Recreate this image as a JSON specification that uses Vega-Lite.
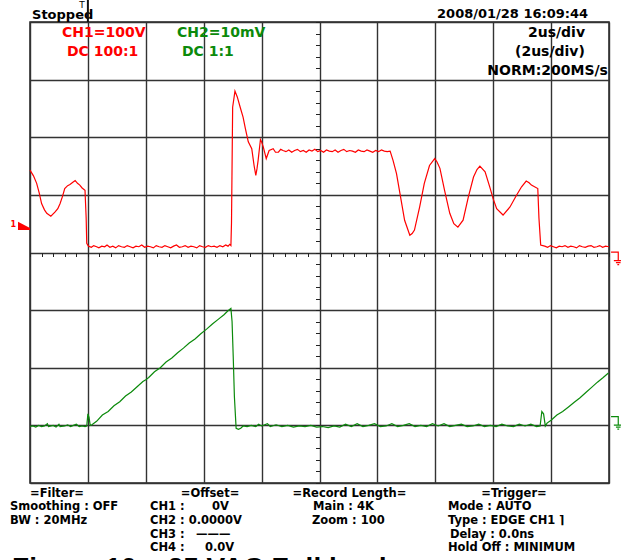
{
  "$schema": "https://vega.github.io/schema/vega-lite/v6.json",
  "width": 579,
  "height": 461,
  "autosize": {"type": "none"},
  "padding": {"left": 30, "top": 22, "right": 12, "bottom": 77},
  "background": "white",
  "config": {"view": {"stroke": "#222", "strokeWidth": 1.5}, "font": "DejaVu Sans"},
  "datasets": {
    "red": [
      {"t": 0, "v": 1.43}, {"t": 0.06, "v": 1.33}, {"t": 0.115, "v": 1.2}, {"t": 0.16, "v": 1.03}, {"t": 0.2, "v": 0.85},
      {"t": 0.25, "v": 0.74}, {"t": 0.29, "v": 0.68}, {"t": 0.36, "v": 0.63}, {"t": 0.43, "v": 0.7}, {"t": 0.48, "v": 0.76},
      {"t": 0.52, "v": 0.85}, {"t": 0.56, "v": 0.97}, {"t": 0.6, "v": 1.11}, {"t": 0.65, "v": 1.16}, {"t": 0.69, "v": 1.18},
      {"t": 0.74, "v": 1.22}, {"t": 0.78, "v": 1.25}, {"t": 0.82, "v": 1.2}, {"t": 0.86, "v": 1.17}, {"t": 0.9, "v": 1.12},
      {"t": 0.95, "v": 1.08}, {"t": 0.97, "v": 0.6}, {"t": 0.98, "v": 0.16}, {"t": 1.01, "v": 0.11},
      {"t": 1.06, "v": 0.09}, {"t": 1.1, "v": 0.12}, {"t": 1.15, "v": 0.1}, {"t": 1.19, "v": 0.08}, {"t": 1.24, "v": 0.11},
      {"t": 1.29, "v": 0.1}, {"t": 1.33, "v": 0.13}, {"t": 1.38, "v": 0.09}, {"t": 1.43, "v": 0.11}, {"t": 1.48, "v": 0.08},
      {"t": 1.53, "v": 0.12}, {"t": 1.58, "v": 0.1}, {"t": 1.63, "v": 0.09}, {"t": 1.68, "v": 0.12}, {"t": 1.73, "v": 0.1},
      {"t": 1.78, "v": 0.08}, {"t": 1.83, "v": 0.11}, {"t": 1.88, "v": 0.1}, {"t": 1.93, "v": 0.13}, {"t": 1.98, "v": 0.09},
      {"t": 2.03, "v": 0.11}, {"t": 2.08, "v": 0.1}, {"t": 2.13, "v": 0.08}, {"t": 2.18, "v": 0.12}, {"t": 2.23, "v": 0.1},
      {"t": 2.28, "v": 0.09}, {"t": 2.33, "v": 0.12}, {"t": 2.38, "v": 0.1}, {"t": 2.43, "v": 0.08}, {"t": 2.48, "v": 0.11},
      {"t": 2.53, "v": 0.13}, {"t": 2.58, "v": 0.09}, {"t": 2.63, "v": 0.1}, {"t": 2.68, "v": 0.12}, {"t": 2.73, "v": 0.09},
      {"t": 2.78, "v": 0.11}, {"t": 2.83, "v": 0.1}, {"t": 2.88, "v": 0.08}, {"t": 2.93, "v": 0.12}, {"t": 2.98, "v": 0.1},
      {"t": 3.03, "v": 0.09}, {"t": 3.08, "v": 0.12}, {"t": 3.13, "v": 0.1}, {"t": 3.18, "v": 0.11}, {"t": 3.23, "v": 0.09},
      {"t": 3.28, "v": 0.12}, {"t": 3.33, "v": 0.1}, {"t": 3.38, "v": 0.13}, {"t": 3.42, "v": 0.11}, {"t": 3.45, "v": 0.14},
      {"t": 3.47, "v": 0.12}, {"t": 3.48, "v": 0.51}, {"t": 3.5, "v": 2.52}, {"t": 3.54, "v": 2.8}, {"t": 3.58, "v": 2.7},
      {"t": 3.63, "v": 2.52}, {"t": 3.68, "v": 2.35}, {"t": 3.72, "v": 2.15}, {"t": 3.77, "v": 1.92}, {"t": 3.83, "v": 1.8},
      {"t": 3.87, "v": 1.51}, {"t": 3.9, "v": 1.34}, {"t": 3.92, "v": 1.45}, {"t": 3.94, "v": 1.6}, {"t": 3.98, "v": 1.96},
      {"t": 4.0, "v": 1.92}, {"t": 4.03, "v": 1.83}, {"t": 4.08, "v": 1.63}, {"t": 4.13, "v": 1.77}, {"t": 4.2, "v": 1.8},
      {"t": 4.24, "v": 1.74}, {"t": 4.29, "v": 1.74}, {"t": 4.33, "v": 1.79}, {"t": 4.37, "v": 1.77}, {"t": 4.42, "v": 1.75},
      {"t": 4.47, "v": 1.78}, {"t": 4.52, "v": 1.74}, {"t": 4.57, "v": 1.77}, {"t": 4.62, "v": 1.79}, {"t": 4.67, "v": 1.75},
      {"t": 4.72, "v": 1.77}, {"t": 4.77, "v": 1.74}, {"t": 4.82, "v": 1.78}, {"t": 4.87, "v": 1.76}, {"t": 4.92, "v": 1.79},
      {"t": 4.97, "v": 1.75}, {"t": 5.02, "v": 1.77}, {"t": 5.07, "v": 1.74}, {"t": 5.12, "v": 1.78}, {"t": 5.17, "v": 1.76},
      {"t": 5.22, "v": 1.75}, {"t": 5.27, "v": 1.78}, {"t": 5.32, "v": 1.74}, {"t": 5.37, "v": 1.77}, {"t": 5.42, "v": 1.79},
      {"t": 5.47, "v": 1.75}, {"t": 5.52, "v": 1.77}, {"t": 5.57, "v": 1.76}, {"t": 5.62, "v": 1.74}, {"t": 5.67, "v": 1.78},
      {"t": 5.72, "v": 1.76}, {"t": 5.77, "v": 1.75}, {"t": 5.82, "v": 1.78}, {"t": 5.87, "v": 1.76}, {"t": 5.92, "v": 1.74},
      {"t": 5.97, "v": 1.77}, {"t": 6.02, "v": 1.75}, {"t": 6.07, "v": 1.78}, {"t": 6.12, "v": 1.76}, {"t": 6.17, "v": 1.75},
      {"t": 6.22, "v": 1.76}, {"t": 6.27, "v": 1.6}, {"t": 6.33, "v": 1.37}, {"t": 6.39, "v": 1.02}, {"t": 6.47, "v": 0.56},
      {"t": 6.56, "v": 0.3}, {"t": 6.6, "v": 0.33}, {"t": 6.64, "v": 0.39}, {"t": 6.73, "v": 0.79}, {"t": 6.81, "v": 1.2},
      {"t": 6.9, "v": 1.51}, {"t": 6.99, "v": 1.63}, {"t": 7.03, "v": 1.57}, {"t": 7.08, "v": 1.46}, {"t": 7.16, "v": 1.08},
      {"t": 7.25, "v": 0.68}, {"t": 7.32, "v": 0.5}, {"t": 7.39, "v": 0.44}, {"t": 7.48, "v": 0.56}, {"t": 7.57, "v": 0.96},
      {"t": 7.66, "v": 1.31}, {"t": 7.72, "v": 1.44}, {"t": 7.77, "v": 1.5}, {"t": 7.86, "v": 1.4}, {"t": 7.94, "v": 1.14},
      {"t": 8.0, "v": 0.93}, {"t": 8.06, "v": 0.76}, {"t": 8.17, "v": 0.65}, {"t": 8.29, "v": 0.79}, {"t": 8.4, "v": 0.99},
      {"t": 8.49, "v": 1.14}, {"t": 8.57, "v": 1.24}, {"t": 8.62, "v": 1.21}, {"t": 8.66, "v": 1.17}, {"t": 8.77, "v": 1.11},
      {"t": 8.79, "v": 0.6}, {"t": 8.82, "v": 0.13}, {"t": 8.89, "v": 0.11}, {"t": 8.94, "v": 0.09}, {"t": 8.99, "v": 0.12},
      {"t": 9.04, "v": 0.1}, {"t": 9.09, "v": 0.08}, {"t": 9.14, "v": 0.11}, {"t": 9.19, "v": 0.1}, {"t": 9.24, "v": 0.12},
      {"t": 9.29, "v": 0.09}, {"t": 9.34, "v": 0.11}, {"t": 9.39, "v": 0.1}, {"t": 9.44, "v": 0.08}, {"t": 9.49, "v": 0.12},
      {"t": 9.54, "v": 0.1}, {"t": 9.59, "v": 0.09}, {"t": 9.64, "v": 0.11}, {"t": 9.69, "v": 0.12}, {"t": 9.74, "v": 0.09},
      {"t": 9.79, "v": 0.1}, {"t": 9.84, "v": 0.12}, {"t": 9.89, "v": 0.09}, {"t": 9.94, "v": 0.11}, {"t": 10.0, "v": 0.1}
    ],
    "green": [
      {"t": 0, "v": -3.02}, {"t": 0.05, "v": -3.01}, {"t": 0.1, "v": -3.03}, {"t": 0.15, "v": -3.0}, {"t": 0.2, "v": -3.02},
      {"t": 0.25, "v": -3.01}, {"t": 0.3, "v": -2.97}, {"t": 0.32, "v": -3.02}, {"t": 0.4, "v": -3.0}, {"t": 0.45, "v": -3.03},
      {"t": 0.5, "v": -2.98}, {"t": 0.52, "v": -3.02}, {"t": 0.6, "v": -3.01}, {"t": 0.65, "v": -2.99}, {"t": 0.7, "v": -3.02},
      {"t": 0.75, "v": -3.0}, {"t": 0.8, "v": -2.98}, {"t": 0.85, "v": -3.02}, {"t": 0.9, "v": -3.01}, {"t": 0.95, "v": -3.02},
      {"t": 0.98, "v": -3.01}, {"t": 1.0, "v": -2.8}, {"t": 1.02, "v": -2.86}, {"t": 1.04, "v": -3.0}, {"t": 1.07, "v": -2.99},
      {"t": 1.15, "v": -2.93}, {"t": 1.25, "v": -2.82}, {"t": 1.35, "v": -2.76}, {"t": 1.45, "v": -2.66}, {"t": 1.55, "v": -2.59},
      {"t": 1.65, "v": -2.49}, {"t": 1.75, "v": -2.42}, {"t": 1.85, "v": -2.33}, {"t": 1.95, "v": -2.24}, {"t": 2.0, "v": -2.21},
      {"t": 2.05, "v": -2.17}, {"t": 2.15, "v": -2.07}, {"t": 2.25, "v": -2.0}, {"t": 2.35, "v": -1.9}, {"t": 2.45, "v": -1.83},
      {"t": 2.55, "v": -1.74}, {"t": 2.65, "v": -1.66}, {"t": 2.75, "v": -1.57}, {"t": 2.85, "v": -1.5}, {"t": 2.95, "v": -1.41},
      {"t": 3.05, "v": -1.33}, {"t": 3.15, "v": -1.24}, {"t": 3.25, "v": -1.16}, {"t": 3.35, "v": -1.08}, {"t": 3.42, "v": -1.01},
      {"t": 3.47, "v": -0.97}, {"t": 3.49, "v": -1.2}, {"t": 3.51, "v": -1.81}, {"t": 3.53, "v": -2.5}, {"t": 3.56, "v": -3.05},
      {"t": 3.6, "v": -3.07}, {"t": 3.64, "v": -3.05}, {"t": 3.68, "v": -3.01}, {"t": 3.75, "v": -3.02}, {"t": 3.82, "v": -3.0},
      {"t": 3.9, "v": -3.02}, {"t": 3.95, "v": -2.98}, {"t": 4.0, "v": -3.01}, {"t": 4.1, "v": -2.97}, {"t": 4.15, "v": -3.02},
      {"t": 4.25, "v": -2.99}, {"t": 4.35, "v": -3.02}, {"t": 4.45, "v": -3.0}, {"t": 4.55, "v": -3.03}, {"t": 4.65, "v": -3.01},
      {"t": 4.75, "v": -3.02}, {"t": 4.85, "v": -3.0}, {"t": 4.95, "v": -3.03}, {"t": 5.05, "v": -3.02}, {"t": 5.15, "v": -3.04},
      {"t": 5.25, "v": -3.01}, {"t": 5.35, "v": -3.03}, {"t": 5.45, "v": -2.98}, {"t": 5.55, "v": -3.02}, {"t": 5.65, "v": -2.97},
      {"t": 5.75, "v": -3.02}, {"t": 5.85, "v": -3.0}, {"t": 5.95, "v": -2.97}, {"t": 6.05, "v": -3.02}, {"t": 6.15, "v": -3.01},
      {"t": 6.25, "v": -2.97}, {"t": 6.35, "v": -3.02}, {"t": 6.45, "v": -3.0}, {"t": 6.55, "v": -2.97}, {"t": 6.65, "v": -3.02},
      {"t": 6.75, "v": -3.0}, {"t": 6.85, "v": -3.02}, {"t": 6.95, "v": -2.97}, {"t": 7.05, "v": -3.01}, {"t": 7.15, "v": -2.97},
      {"t": 7.25, "v": -3.02}, {"t": 7.35, "v": -3.0}, {"t": 7.45, "v": -2.98}, {"t": 7.55, "v": -3.02}, {"t": 7.65, "v": -3.01},
      {"t": 7.75, "v": -2.98}, {"t": 7.85, "v": -3.02}, {"t": 7.95, "v": -3.0}, {"t": 8.05, "v": -3.02}, {"t": 8.15, "v": -2.98},
      {"t": 8.25, "v": -3.01}, {"t": 8.35, "v": -3.02}, {"t": 8.45, "v": -2.98}, {"t": 8.55, "v": -3.01}, {"t": 8.65, "v": -2.98},
      {"t": 8.75, "v": -3.02}, {"t": 8.81, "v": -3.01}, {"t": 8.84, "v": -2.76}, {"t": 8.87, "v": -2.8}, {"t": 8.9, "v": -3.01},
      {"t": 8.93, "v": -2.96}, {"t": 9.0, "v": -2.91}, {"t": 9.1, "v": -2.82}, {"t": 9.2, "v": -2.76}, {"t": 9.3, "v": -2.68},
      {"t": 9.4, "v": -2.6}, {"t": 9.5, "v": -2.52}, {"t": 9.6, "v": -2.43}, {"t": 9.7, "v": -2.34}, {"t": 9.8, "v": -2.25},
      {"t": 9.9, "v": -2.17}, {"t": 9.99, "v": -2.09}
    ],
    "redLabels": [
      {"label": "CH1=100V", "t": 0.553, "v": 3.81},
      {"label": "DC 100:1", "t": 0.639, "v": 3.485}
    ],
    "greenLabels": [
      {"label": "CH2=10mV", "t": 2.539, "v": 3.81},
      {"label": "DC 1:1", "t": 2.625, "v": 3.485}
    ],
    "header": [
      {"label": "Stopped", "t": 0.035, "v": 4.13},
      {"label": "2008/01/28 16:09:44", "t": 7.03, "v": 4.14}
    ],
    "rightLabels": [
      {"label": "2us/div", "t": 9.093, "v": 3.81},
      {"label": "(2us/div)", "t": 8.98, "v": 3.48},
      {"label": "NORM:200MS/s", "t": 8.94, "v": 3.15}
    ],
    "footHeads": [
      {"label": "=Filter=", "t": 0.466, "v": -4.19},
      {"label": "=Offset=", "t": 3.109, "v": -4.19},
      {"label": "=Record Length=", "t": 5.518, "v": -4.19},
      {"label": "=Trigger=", "t": 8.359, "v": -4.19}
    ],
    "footItems": [
      {"label": "Smoothing : OFF", "t": -0.345, "v": -4.425},
      {"label": "BW : 20MHz", "t": -0.345, "v": -4.659},
      {"label": "CH1 :", "t": 2.073, "v": -4.425},
      {"label": "0V", "t": 3.143, "v": -4.425},
      {"label": "CH2 : 0.0000V", "t": 2.073, "v": -4.659},
      {"label": "CH3 :", "t": 2.073, "v": -4.894},
      {"label": "———", "t": 2.867, "v": -4.894},
      {"label": "CH4 :", "t": 2.073, "v": -5.128},
      {"label": "0.0V", "t": 3.022, "v": -5.128},
      {"label": "Main : 4K", "t": 4.888, "v": -4.425},
      {"label": "Zoom : 100", "t": 4.87, "v": -4.659},
      {"label": "Mode : AUTO", "t": 7.219, "v": -4.425},
      {"label": "Type : EDGE CH1 ⌉", "t": 7.219, "v": -4.659},
      {"label": "Delay :  0.0ns", "t": 7.254, "v": -4.894},
      {"label": "Hold Off : MINIMUM", "t": 7.219, "v": -5.128}
    ],
    "caption": [
      {"label": "Figure 10 – 25 VAC Full load", "t": -0.31, "v": -5.63}
    ],
    "trigBar": [{"t": 1, "v": 4.0, "v2": 4.39}],
    "trigText": [{"label": "T", "t": 0.9, "v": 4.3}],
    "ch1Offset": [{"t": -0.104, "v": 0.46}],
    "ch1OffsetText": [{"label": "1", "t": -0.29, "v": 0.477}],
    "ch1Ground": [{"t": 10.12, "v": -0.104}],
    "ch2Ground": [{"t": 10.12, "v": -2.957}]
  },
  "encoding": {
    "x": {"field": "t", "type": "quantitative", "scale": {"domain": [0, 10], "nice": false, "zero": false}, "axis": null},
    "y": {"field": "v", "type": "quantitative", "scale": {"domain": [-4, 4], "nice": false, "zero": false}, "axis": null}
  },
  "layer": [
    {
      "data": {"name": "red"},
      "mark": {"type": "line", "color": "#ff0000", "strokeWidth": 1.2},
      "encoding": {
        "x": {"field": "t", "type": "quantitative", "scale": {"domain": [0, 10], "nice": false, "zero": false},
          "axis": {"values": [0, 1, 2, 3, 4, 5, 6, 7, 8, 9, 10], "grid": true, "gridColor": "#333", "gridWidth": 1.4, "gridOpacity": 1, "ticks": false, "labels": false, "domain": false, "title": null}},
        "y": {"field": "v", "type": "quantitative", "scale": {"domain": [-4, 4], "nice": false, "zero": false},
          "axis": {"values": [-4, -3, -2, -1, 0, 1, 2, 3, 4], "grid": true, "gridColor": "#333", "gridWidth": 1.4, "gridOpacity": 1, "ticks": false, "labels": false, "domain": false, "title": null}}
      }
    },
    {
      "data": {"name": "green"},
      "mark": {"type": "line", "color": "#0b8a0b", "strokeWidth": 1.2},
      "encoding": {
        "x": {"field": "t", "type": "quantitative", "scale": {"domain": [0, 10], "nice": false, "zero": false},
          "axis": {"orient": "bottom", "offset": -230.5, "tickCount": 50, "tickSize": 4, "tickColor": "#222", "tickWidth": 1, "grid": false, "labels": false, "domain": false, "title": null}},
        "y": {"field": "v", "type": "quantitative", "scale": {"domain": [-4, 4], "nice": false, "zero": false},
          "axis": {"orient": "left", "offset": -289.5, "tickCount": 40, "tickSize": 4, "tickColor": "#222", "tickWidth": 1, "grid": false, "labels": false, "domain": false, "title": null}}
      }
    },
    {
      "data": {"name": "redLabels"},
      "mark": {"type": "text", "align": "left", "baseline": "middle", "font": "DejaVu Sans", "fontWeight": "bold", "fontSize": 14, "color": "#ff0000"},
      "encoding": {"text": {"field": "label"}}
    },
    {
      "data": {"name": "greenLabels"},
      "mark": {"type": "text", "align": "left", "baseline": "middle", "font": "DejaVu Sans", "fontWeight": "bold", "fontSize": 14, "color": "#0b8a0b"},
      "encoding": {"text": {"field": "label"}}
    },
    {
      "data": {"name": "header"},
      "mark": {"type": "text", "align": "left", "baseline": "middle", "font": "DejaVu Sans", "fontWeight": "bold", "fontSize": 13, "color": "#000"},
      "encoding": {"text": {"field": "label"}}
    },
    {
      "data": {"name": "rightLabels"},
      "mark": {"type": "text", "align": "center", "baseline": "middle", "font": "DejaVu Sans", "fontWeight": "bold", "fontSize": 14, "color": "#000"},
      "encoding": {"text": {"field": "label"}}
    },
    {
      "data": {"name": "footHeads"},
      "mark": {"type": "text", "align": "center", "baseline": "middle", "font": "DejaVu Sans", "fontWeight": "bold", "fontSize": 11.5, "color": "#000"},
      "encoding": {"text": {"field": "label"}}
    },
    {
      "data": {"name": "footItems"},
      "mark": {"type": "text", "align": "left", "baseline": "middle", "font": "DejaVu Sans", "fontWeight": "bold", "fontSize": 11.5, "color": "#000"},
      "encoding": {"text": {"field": "label"}}
    },
    {
      "data": {"name": "caption"},
      "mark": {"type": "text", "align": "left", "baseline": "alphabetic", "font": "Liberation Sans", "fontWeight": "bold", "fontSize": 28, "color": "#000"},
      "encoding": {"text": {"field": "label"}}
    },
    {
      "data": {"name": "trigBar"},
      "mark": {"type": "rule", "color": "#111", "strokeWidth": 2},
      "encoding": {"y2": {"field": "v2"}}
    },
    {
      "data": {"name": "trigText"},
      "mark": {"type": "text", "align": "center", "baseline": "middle", "font": "DejaVu Sans", "fontSize": 9, "color": "#000"},
      "encoding": {"text": {"field": "label"}}
    },
    {
      "data": {"name": "ch1Offset"},
      "mark": {"type": "point", "shape": "M-1,-0.72L1,0.33L1,0.67L-1,0.67Z", "filled": true, "color": "#ff0000", "size": 144, "opacity": 1}
    },
    {
      "data": {"name": "ch1OffsetText"},
      "mark": {"type": "text", "align": "center", "baseline": "middle", "font": "DejaVu Sans", "fontSize": 8, "fontWeight": "bold", "color": "#ff0000"},
      "encoding": {"text": {"field": "label"}}
    },
    {
      "data": {"name": "ch1Ground"},
      "mark": {"type": "point", "shape": "M-0.7,-0.9H0.33V0.31M-0.3,0.31H0.95M0,0.6H0.66M0.2,0.89H0.46", "filled": false, "color": "#ff0000", "strokeWidth": 1.2, "size": 196, "opacity": 1}
    },
    {
      "data": {"name": "ch2Ground"},
      "mark": {"type": "point", "shape": "M-0.7,-0.9H0.33V0.31M-0.3,0.31H0.95M0,0.6H0.66M0.2,0.89H0.46", "filled": false, "color": "#0b8a0b", "strokeWidth": 1.2, "size": 196, "opacity": 1}
    }
  ],
  "resolve": {"axis": {"x": "independent", "y": "independent"}}
}
